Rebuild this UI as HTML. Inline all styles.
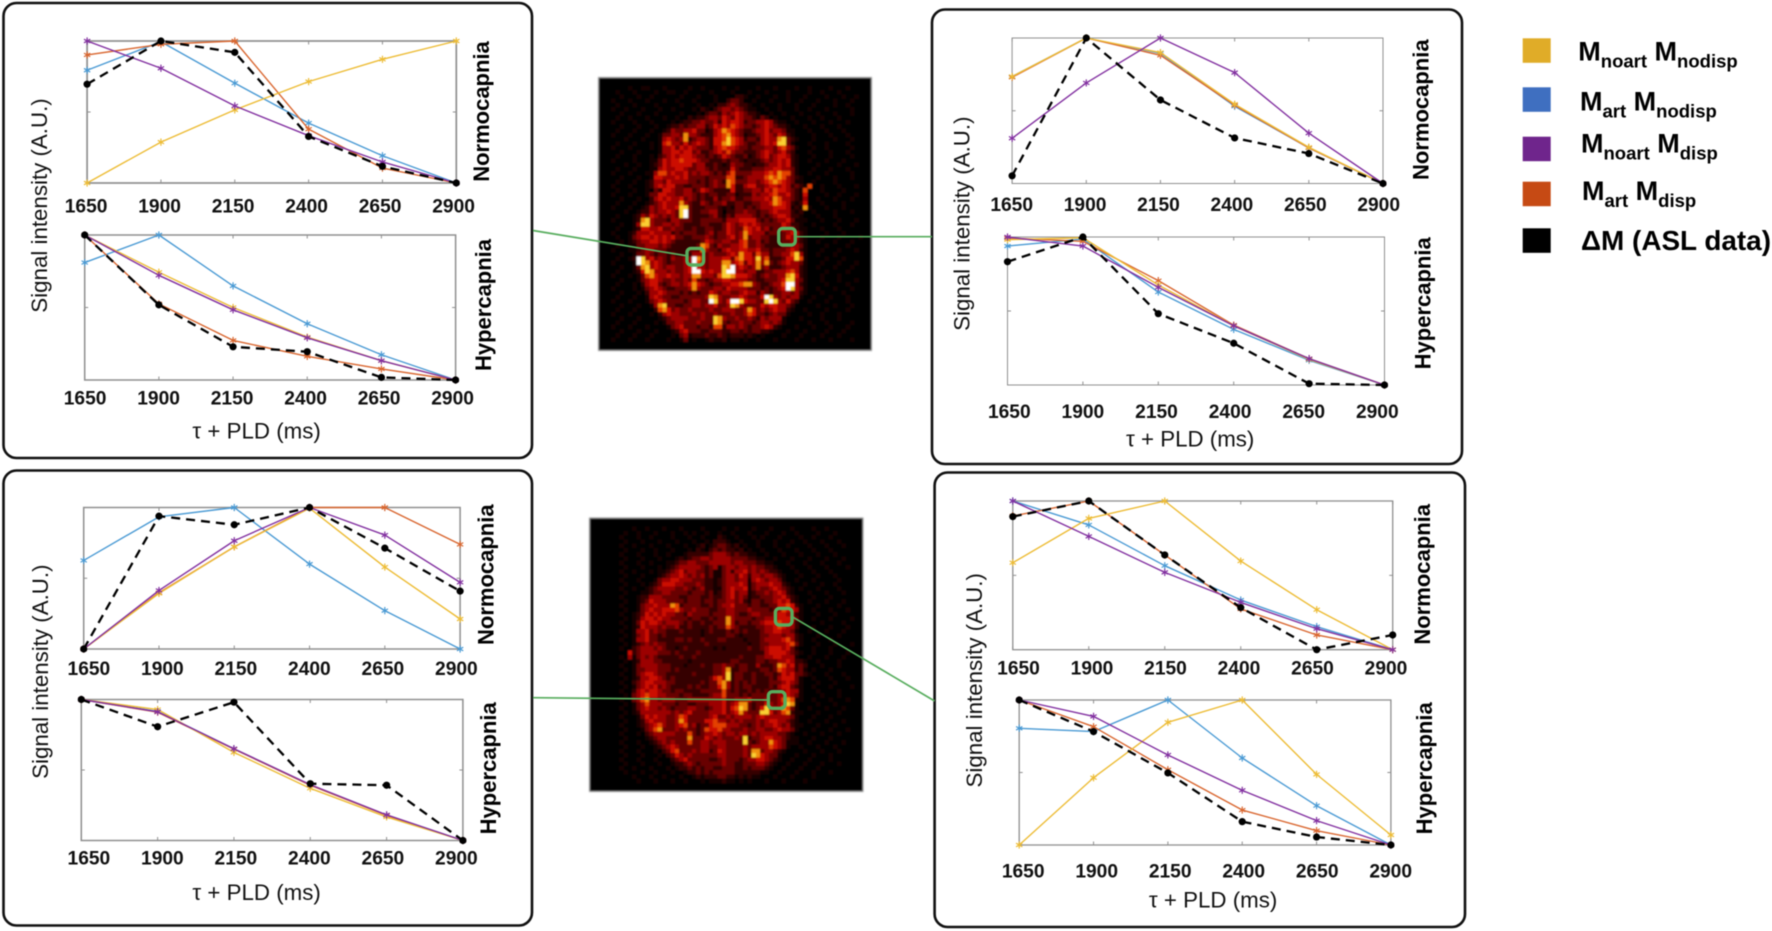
<!DOCTYPE html>
<html lang="en">
<head>
<meta charset="utf-8">
<title>ASL model fits in selected voxels</title>
<style>
html,body{margin:0;padding:0;background:#fff;width:1772px;height:931px;overflow:hidden}
svg{display:block;filter:blur(0.55px);font-family:"Liberation Sans",sans-serif}
.tick{font-weight:bold;text-anchor:middle;fill:#111}
.axt{font-size:22.3px;fill:#111;text-anchor:middle}
.cond{font-size:22px;font-weight:bold;fill:#000;text-anchor:middle}
.leg{font-size:27px;font-weight:bold;fill:#000}
.leg tspan.s{font-size:18.5px}
</style>
</head>
<body>
<svg id="fig" xmlns="http://www.w3.org/2000/svg" width="1772" height="931" viewBox="0 0 1772 931">
<defs><filter id="soft" x="-5%" y="-5%" width="110%" height="110%"><feGaussianBlur stdDeviation="0.9"/></filter></defs>
<rect x="0" y="0" width="1772" height="931" fill="#fff"/>
<g id="heatmaps" filter="url(#soft)"></g>
<g id="panels" fill="none" stroke="#111" stroke-width="2.6">
<rect x="3.5" y="3" width="528.5" height="455" rx="13"/>
<rect x="932" y="9.5" width="530" height="454.5" rx="13"/>
<rect x="3.5" y="470.5" width="528.5" height="455" rx="13"/>
<rect x="934.6" y="472.5" width="530.4" height="454.5" rx="13"/>
</g>
<g id="connectors" fill="none" stroke="#58ad5e">
<line x1="533" y1="230.5" x2="688" y2="256" stroke-width="1.7"/>
<line x1="795" y1="236.7" x2="932" y2="236.7" stroke-width="1.7"/>
<line x1="791" y1="616" x2="934.6" y2="701" stroke-width="1.7"/>
<line x1="533" y1="697.7" x2="770" y2="700" stroke-width="1.7"/>
<rect x="687" y="248.4" width="16.6" height="16.6" rx="4" stroke-width="3.4"/>
<rect x="778.7" y="228.4" width="16.6" height="16.6" rx="4" stroke-width="3.4"/>
<rect x="775.4" y="608.4" width="16.6" height="16.6" rx="4" stroke-width="3.4"/>
<rect x="768.4" y="691.7" width="16.6" height="16.6" rx="4" stroke-width="3.4"/>
</g>
<g id="plots"></g>
<g id="titles">
<text class="axt" transform="translate(47.2 205.5) rotate(-90)">Signal intensity (A.U.)</text>
<text class="axt" transform="translate(969.3 223.7) rotate(-90)">Signal intensity (A.U.)</text>
<text class="axt" transform="translate(48.2 671.7) rotate(-90)">Signal intensity (A.U.)</text>
<text class="axt" transform="translate(982.1 680.3) rotate(-90)">Signal intensity (A.U.)</text>
<text class="axt" x="256.6" y="438.3">τ + PLD (ms)</text>
<text class="axt" x="1190.2" y="446.7">τ + PLD (ms)</text>
<text class="axt" x="256.6" y="900">τ + PLD (ms)</text>
<text class="axt" x="1213.1" y="907.7">τ + PLD (ms)</text>
<text class="cond" transform="translate(489 111.5) rotate(-90)">Normocapnia</text>
<text class="cond" transform="translate(490.8 305) rotate(-90)">Hypercapnia</text>
<text class="cond" transform="translate(1428.4 109.7) rotate(-90)">Normocapnia</text>
<text class="cond" transform="translate(1430.5 303.3) rotate(-90)">Hypercapnia</text>
<text class="cond" transform="translate(493.5 574.7) rotate(-90)">Normocapnia</text>
<text class="cond" transform="translate(496 768.3) rotate(-90)">Hypercapnia</text>
<text class="cond" transform="translate(1430.2 574.3) rotate(-90)">Normocapnia</text>
<text class="cond" transform="translate(1432 768.3) rotate(-90)">Hypercapnia</text>
</g>
<g id="legend">
<rect x="1522.7" y="38.3" width="28" height="24.5" fill="#e0ac28"/>
<text class="leg" x="1578.3" y="60.7">M<tspan class="s" dy="7">noart</tspan><tspan dy="-7"> M</tspan><tspan class="s" dy="7">nodisp</tspan></text>
<rect x="1522.7" y="87.3" width="28" height="24.5" fill="#3f6fc0"/>
<text class="leg" x="1580" y="110.7">M<tspan class="s" dy="7">art</tspan><tspan dy="-7"> M</tspan><tspan class="s" dy="7">nodisp</tspan></text>
<rect x="1522.7" y="136.7" width="28" height="24.5" fill="#6f258c"/>
<text class="leg" x="1581" y="152.3">M<tspan class="s" dy="7">noart</tspan><tspan dy="-7"> M</tspan><tspan class="s" dy="7">disp</tspan></text>
<rect x="1522.7" y="181.7" width="28" height="24.5" fill="#c64a14"/>
<text class="leg" x="1582" y="200">M<tspan class="s" dy="7">art</tspan><tspan dy="-7"> M</tspan><tspan class="s" dy="7">disp</tspan></text>
<rect x="1522.7" y="228.3" width="28" height="24.5" fill="#000"/>
<text class="leg" x="1581" y="250" style="font-size:27.9px">ΔM (ASL data)</text>
</g>
</svg>
<script>
// x-axis categories and tick labels
const times = [1650, 1900, 2150, 2400, 2650, 2900];
const tickLabels = ["1650", "1900", "2150", "2400", "2650", "2900"];
const seriesNames = ["noart-nodisp", "art-nodisp", "art-disp", "noart-disp", "asl-data"];

// Top-left panel, normocapnia
const tlNormoNoartNodisp = [0, 0.288, 0.515, 0.714, 0.871, 1];
const tlNormoArtNodisp = [0.794, 0.995, 0.703, 0.422, 0.192, 0];
const tlNormoArtDisp = [0.902, 0.977, 1, 0.379, 0.105, 0];
const tlNormoNoartDisp = [1, 0.808, 0.543, 0.333, 0.148, 0];
const tlNormoAsl = [0.696, 1, 0.92, 0.328, 0.117, 0];
// Top-left panel, hypercapnia
const tlHyperNoartNodisp = [1, 0.743, 0.5, 0.296, 0.133, 0];
const tlHyperArtNodisp = [0.81, 1, 0.649, 0.388, 0.174, 0];
const tlHyperArtDisp = [1, 0.525, 0.273, 0.163, 0.076, 0];
const tlHyperNoartDisp = [1, 0.722, 0.484, 0.291, 0.133, 0];
const tlHyperAsl = [1, 0.518, 0.229, 0.195, 0.018, 0];
// Top-right panel, normocapnia
const trNormoNoartNodisp = [0.735, 1, 0.9, 0.545, 0.249, 0];
const trNormoArtNodisp = [0.735, 1, 0.895, 0.531, 0.245, 0];
const trNormoArtDisp = [0.73, 1, 0.881, 0.538, 0.245, 0];
const trNormoNoartDisp = [0.311, 0.691, 1, 0.762, 0.346, 0];
const trNormoAsl = [0.053, 1, 0.574, 0.313, 0.206, 0];
// Top-right panel, hypercapnia
const trHyperNoartNodisp = [0.982, 0.995, 0.676, 0.4, 0.173, 0];
const trHyperArtNodisp = [0.939, 0.986, 0.628, 0.376, 0.167, 0];
const trHyperArtDisp = [0.993, 0.971, 0.705, 0.405, 0.178, 0];
const trHyperNoartDisp = [1, 0.939, 0.66, 0.4, 0.178, 0];
const trHyperAsl = [0.833, 1, 0.482, 0.282, 0.009, 0];
// Bottom-left panel, normocapnia
const blNormoNoartNodisp = [0, 0.393, 0.722, 0.995, 0.579, 0.212];
const blNormoArtNodisp = [0.626, 0.934, 1, 0.6, 0.271, 0];
const blNormoArtDisp = [0, 0.398, 0.722, 1, 1, 0.739];
const blNormoNoartDisp = [0, 0.414, 0.765, 1, 0.805, 0.471];
const blNormoAsl = [0, 0.939, 0.878, 1, 0.713, 0.409];
// Bottom-left panel, hypercapnia
const blHyperNoartNodisp = [1, 0.929, 0.625, 0.37, 0.167, 0];
const blHyperArtNodisp = [1, 0.915, 0.65, 0.394, 0.18, 0];
const blHyperArtDisp = [1, 0.91, 0.648, 0.392, 0.178, 0];
const blHyperNoartDisp = [1, 0.913, 0.651, 0.396, 0.182, 0];
const blHyperAsl = [1, 0.807, 0.981, 0.403, 0.392, 0];
// Bottom-right panel, normocapnia
const brNormoNoartNodisp = [0.585, 0.883, 1, 0.596, 0.269, 0];
const brNormoArtNodisp = [1, 0.839, 0.565, 0.334, 0.155, 0];
const brNormoArtDisp = [0.899, 1, 0.637, 0.274, 0.099, 0];
const brNormoNoartDisp = [1, 0.762, 0.52, 0.318, 0.141, 0];
const brNormoAsl = [0.895, 1, 0.637, 0.283, 0, 0.099];
// Bottom-right panel, hypercapnia
const brHyperNoartNodisp = [0, 0.464, 0.846, 1, 0.487, 0.069];
const brHyperArtNodisp = [0.805, 0.782, 1, 0.6, 0.271, 0];
const brHyperArtDisp = [1, 0.816, 0.519, 0.241, 0.099, 0];
const brHyperNoartDisp = [1, 0.887, 0.621, 0.377, 0.168, 0];
const brHyperAsl = [1, 0.782, 0.497, 0.161, 0.055, 0];

// Heatmap intensity levels (0-9), one string per row, read by eye
const brainOneRows = [
"0000000000000000000000000000000000000000000000000000000000000000",
"0000000000000000000000000000000000000000000000000000000000000000",
"0000000100110001000001001000010010000100010000100100001000100000",
"0000100010000100110010000010000100010001000010000100100010000000",
"0000010001001000000100010001000022100100010010001000010001001000",
"0001000100010001001000100001002332001000100010010001000100010000",
"0000100010000100000100010010223432210010001000100010000100100000",
"0001001000100010010000102102344343211001001000100100010000010000",
"0000010001000100000100010233243454322100100100010001000100010000",
"0000100100010001001002122344354354332132010001000100100010000000",
"0001000010001000010122334334254554233445421100100010001000100000",
"0000010001000100122323344235454654332345432210001000100010000000",
"0000100010001001243344533124576543223445344311000100010001000000",
"0001000100010013344374432224567543122345435421000010001000100000",
"0000001000100014543472344325568654233245447832100010000100010000",
"0000100010001015644353454325578654322345458831000100010000100000",
"0001000100001014453545433324565543323334435643100010010000010000",
"0000010001000014455455342234546433222345434532000100001000100000",
"0000100010001023454555433232354322312345345542100010001000010000",
"0001000010001135455655543322232332122234345452100100010001000000",
"0000001001001235455555344223212433221223445452100001000010001000",
"0000100010001145445543344323222532223334455443100010001000100000",
"0001000100011466454453434432324633334445657663100100010000010000",
"0000010001001554445453333233336622344446767643210001000100010000",
"0000100010012443544443323234327633344345676543110010000100000000",
"0001000100012454553322333234337522455334554542321600100010001000",
"0000100010010325543344235432222522334435465543216000100001000000",
"0001000100013355443344323233223312224344564453215000010010001000",
"0000010001002454544534323224233422334445476443214001000100010000",
"0000100010012345444743224323342233223344576542125000100001000000",
"0001000100124345445883222333212133232344455541217100010001000000",
"0000001001224344543893223344202233433233454442120010000100010000",
"0000100012435434343893222234213244443232345542210001000100000000",
"0001000012784333244333223333324445555323234453111000100010001000",
"0000010014884334434322223322235434545433333542210010000100010000",
"0000100012554453343322322332235433654534233544211000100010000000",
"0001000124445444423233322342335434754442332345421000010001000000",
"0000100134554545453322333432334534734433222354421000100010000100",
"0000010123445545432222223543344335633423222334321001000100010000",
"0000100113344434322222237632433445633432222334431000010000100000",
"0001000112344333222223337433245445544533233345421000100010001000",
"0000010013343233232222444343334547553644233446841001000100000000",
"0000100129845343243344975344455367554846222355861000010001000000",
"0001000019874543233344964344477456354747323454431000100010001000",
"0000010013784543443345954344487945434734222344421001000100010000",
"0000100012587444343345995454489944344223344456421000010000100000",
"0001000101367544544344774443688755543234334478521000100010000000",
"0000010001345543343343633234455444433223334588431000100010001000",
"0000100010245532344345754323344556774322344699421000010000100000",
"0001000010134543223334743334435444433323234598431001000100010000",
"0000010001024454333232323354344334544243233443421000100001000000",
"0000100010014543322333333487433445433359843434410010001000100000",
"0001000100013454333323443398435998544338984353200100010000100000",
"0000010001001478332233443445334874333354554432000001000100010000",
"0000100010000267534334333343344433475343454421001000010000100000",
"0001000100001024544333434334333433465332343310000100100010000000",
"0000010001000012344443334338743343343243444100010000100010000000",
"0000100010000101334433343338732334332344343100000100010000010000",
"0001000100010000134533323326624434323345421000100010001000100000",
"0000010001000100012453332233322332323322100010001000010001000000",
"0000100010001000010341222322321222121010000100010000100010000000",
"0001000100010000100130100121120110100100010000100010001000010000",
"0000000000000000000000000000000000000000000000000000000000000000",
"0000000000000000000000000000000000000000000000000000000000000000"
];
const brainTwoRows = [
"0000000000000000000000000000000000000000000000000000000000000000",
"0000000000000000000000000000000000000000000000000000000000000000",
"0000000000100100010001000010000100100010001000010000100100000000",
"0000000010010001000100101001001001000100010001001000010001000000",
"0000000100010010000100010010002100100010100010000100100010000000",
"0000000010001000100010001001022210010001000100010010001000100000",
"0000000100100010001000100120123321201001000100100001000100010000",
"0000000010001001000100010210232322120100100010001000100010000000",
"0000000100010001001000122222344432322110010001000100010001000000",
"0000000010001000100012123344344443333221100100010001000100010000",
"0000000100010010001123344333444443443332211000100010001000100000",
"0000000010001000101234444432341344344343322100010001000100001000",
"0000000100100010112345344332311342445343432210001000100010000000",
"0000000010001000123445434342311344354244344321000100010001000000",
"0000000100010001344554443332212344344145434431001000100000100000",
"0000000010001012355544333432212344454134445442100010001001000000",
"0000000100100123444433432342211345445134334543210100010000100000",
"0000000010001123344333323332312345344123343454210001000100010000",
"0000000100012244433332233322322345343122333445321000100010000000",
"0000000010012354443333233323323344342133233454521001000100010000",
"0000000100013445444762333322323445333233223355652100010000100000",
"0000000010013454455564334333223344333433332346554100100010001000",
"0000000100123545454433243333233344322344333455442100010001000000",
"0000000010124554544333323322323374333323344455553100100010000100",
"0000000100135455434443232232233374233233455565542100001000010000",
"0000000010125444343342232222323364322223344565442000100010001000",
"0000000100144534332223222212322232323222344554431001000100010000",
"0000000010134533232222222212222233212222334443442100010000100000",
"0000000100144533222233232232223322221222344445642100100010000000",
"0000000010123434332222222223222222222122334444563100010001000100",
"0000000100234443432212322222212122222322345554531000100010000000",
"0000000005234444333232222322222222222222245555432100100010001000",
"0000000104134343222223223222222222232223344554441001000100010000",
"0000000010124443322222212222222223322223323344542210010000100000",
"0000000100134444333222122232233433233224222376452320001000100000",
"0000000010133444333232222222233472233222332365442310100010000000",
"0000000100134554332222223222233482332232233235453321000100010000",
"0000000010124455432322222222356482332232223245553100100010001000",
"0000000100234554443322222232336742323232223334543100010001000000",
"0000000010134545343222232322335742323322223245532100100010000100",
"0000000100245455433233222233333632322323232334544100010000100000",
"0000000010345655443332332222344633323233333344543100001000100000",
"0000000100346744344433344444444533444533343346761100100010001000",
"0000000010134644433323322333444534577323354345871000010001000000",
"0000000100134544343233344332344535687323584447631001000100010000",
"0000000010124444444343453333444534574333885346721100010000100000",
"0000000100013545443346533333453343444434544444431000100010000000",
"0000000010012454443347533335564434343334345544321001000100010000",
"0000000100012345643345634233566644433234344543421100010001000000",
"0000000010001346733343433236556443334334433454431000100010001000",
"0000000100010234444433363234454344344343444433210010001000100000",
"0000000010000123443333373335434333438233455443211000100010000000",
"0000000100010012343433363344344433338323447543111001000100010000",
"0000000010001001234543333344334433334344446543100100010001000000",
"0000000100010001023563334344235433334377344321000010001000100000",
"0000000010001000102354343333334433334387543310001000100010000000",
"0000000100010001000234533333223433323445543210010001000010000000",
"0000000010001000100122343233333433223334432100100010001000100000",
"0000000100100010001012232323322333223233321001000100010000000000",
"0000000010001001000100122323233333222222110010001000100010000000",
"0000000000100010010001001212223322121211000100010000100000000000",
"0000000000010001000100100010111211010100010001000010000000000000",
"0000000000000000000000000000000000000000000000000000000000000000",
"0000000000000000000000000000000000000000000000000000000000000000"
];

const NS = "http://www.w3.org/2000/svg";
function make(tag, attrs) {
  const el = document.createElementNS(NS, tag);
  for (const k in attrs) el.setAttribute(k, attrs[k]);
  return el;
}

// Hot colormap for the intensity levels
const hotColors = ["#000000","#180100","#360200","#680200","#9c0600","#cc1000","#e44000","#f09010","#fbd030","#ffffff"];
function drawHeatmap(rows, left, top, size, name) {
  const parent = document.getElementById("heatmaps");
  const group = make("g", {"shape-rendering": "crispEdges"});
  
  
  const bg = make("rect", {x: left, y: top, width: size, height: size, fill: "#000", stroke: "#999", "stroke-width": 1});
  
  
  group.appendChild(bg);
  const rowH = size / rows.length;
  rows.forEach(function (row, r) {
    const colW = size / 64;
    for (let c = 0; c < row.length && c < 64; c++) {
      const level = +row[c];
      if (!level) continue;
      const cell = make("rect", {x: (left + c * colW).toFixed(2), y: (top + r * rowH).toFixed(2), width: (colW + 0.3).toFixed(2), height: (rowH + 0.3).toFixed(2), fill: hotColors[level]});
      
      
      group.appendChild(cell);
    }
  });
  parent.appendChild(group);
}
drawHeatmap(brainOneRows, 598.3, 77.3, 273, "brain-map-upper");
drawHeatmap(brainTwoRows, 589.3, 518, 273.5, "brain-map-lower");

const lineColors = {"noart-nodisp": "#edbc35", "art-nodisp": "#4a9ad4", "art-disp": "#d9662f", "noart-disp": "#8230a0", "asl-data": "#000"};

const plots = [
  {name: "top-left-normocapnia", x0: 87.1, x1: 456.3, y0: 41, y1: 183, fw: 1.7, lx: 86.1, lstep: 73.5, ly: 212.7, fs: 19.2,
   series: [tlNormoArtNodisp, tlNormoArtDisp, tlNormoNoartNodisp, tlNormoNoartDisp, tlNormoAsl]},
  {name: "top-left-hypercapnia", x0: 84.7, x1: 455.6, y0: 235, y1: 380, fw: 1.5, lx: 85.1, lstep: 73.5, ly: 404.5, fs: 19.2,
   series: [tlHyperArtNodisp, tlHyperArtDisp, tlHyperNoartNodisp, tlHyperNoartDisp, tlHyperAsl]},
  {name: "top-right-normocapnia", x0: 1012.1, x1: 1383, y0: 38, y1: 183.5, fw: 1, lx: 1011.7, lstep: 73.4, ly: 211, fs: 19.2,
   series: [trNormoArtNodisp, trNormoArtDisp, trNormoNoartNodisp, trNormoNoartDisp, trNormoAsl]},
  {name: "top-right-hypercapnia", x0: 1007.5, x1: 1384.5, y0: 237, y1: 385, fw: 1, lx: 1009.3, lstep: 73.6, ly: 418, fs: 19.2,
   series: [trHyperArtNodisp, trHyperArtDisp, trHyperNoartNodisp, trHyperNoartDisp, trHyperAsl]},
  {name: "bottom-left-normocapnia", x0: 83.7, x1: 460.1, y0: 507.5, y1: 649, fw: 1.5, lx: 88.9, lstep: 73.5, ly: 675, fs: 19.2,
   series: [blNormoArtNodisp, blNormoArtDisp, blNormoNoartNodisp, blNormoNoartDisp, blNormoAsl]},
  {name: "bottom-left-hypercapnia", x0: 81.3, x1: 462.9, y0: 699.5, y1: 840.5, fw: 1.5, lx: 88.9, lstep: 73.5, ly: 864.3, fs: 19.2,
   series: [blHyperArtNodisp, blHyperArtDisp, blHyperNoartNodisp, blHyperNoartDisp, blHyperAsl]},
  {name: "bottom-right-normocapnia", x0: 1012.8, x1: 1392.7, y0: 501, y1: 649.7, fw: 1.3, lx: 1018.5, lstep: 73.5, ly: 674.3, fs: 19.2,
   series: [brNormoArtNodisp, brNormoArtDisp, brNormoNoartNodisp, brNormoNoartDisp, brNormoAsl]},
  {name: "bottom-right-hypercapnia", x0: 1019.2, x1: 1390.9, y0: 700, y1: 845, fw: 1.3, lx: 1023.2, lstep: 73.5, ly: 877.3, fs: 19.2,
   series: [brHyperArtNodisp, brHyperArtDisp, brHyperNoartNodisp, brHyperNoartDisp, brHyperAsl]}
];
// Draw order of the series arrays inside each plot
const drawOrder = ["art-nodisp", "art-disp", "noart-nodisp", "noart-disp", "asl-data"];

function drawPlot(p) {
  const root = document.getElementById("plots");
  const g = make("g", {});
  
  
  root.appendChild(g);
  const xMin = times[0], xMax = times[times.length - 1];
  const xScale = function (v) { return p.x0 + (v - xMin) / (xMax - xMin) * (p.x1 - p.x0); };
  const yScale = function (v) { return p.y1 - v * (p.y1 - p.y0); };

  const frame = make("rect", {x: p.x0, y: p.y0, width: p.x1 - p.x0, height: p.y1 - p.y0, fill: "none", stroke: "#8f8f8f", "stroke-width": p.fw});
  
  
  g.appendChild(frame);

  times.forEach(function (t, i) {
    const x = xScale(t);
    [[p.y0, p.y0 + 3.5], [p.y1, p.y1 - 3.5]].forEach(function (pair) {
      const tick = make("line", {x1: x, x2: x, y1: pair[0], y2: pair[1], stroke: "#8f8f8f", "stroke-width": 1});
      
      
      g.appendChild(tick);
    });
    const label = make("text", {x: (p.lx + i * p.lstep).toFixed(1), y: p.ly, "font-size": p.fs});
    label.setAttribute('class', 'tick');
    
    
    label.textContent = tickLabels[i];
    g.appendChild(label);
  });
  const midY = yScale(0.5);
  [[p.x0, p.x0 + 3.5], [p.x1, p.x1 - 3.5]].forEach(function (pair) {
    const tick = make("line", {x1: pair[0], x2: pair[1], y1: midY, y2: midY, stroke: "#8f8f8f", "stroke-width": 1});
    
    
    g.appendChild(tick);
  });

  p.series.forEach(function (values, s) {
    const key = drawOrder[s];
    const isData = key === "asl-data";
    const pts = values.map(function (v, i) { return xScale(times[i]).toFixed(2) + "," + yScale(v).toFixed(2); }).join(" ");
    const line = make("polyline", {points: pts, fill: "none", stroke: lineColors[key], "stroke-width": isData ? 2.3 : 1.4, "stroke-linejoin": "round"});
    if (isData) line.setAttribute("stroke-dasharray", "9 6");
    
    
    g.appendChild(line);
    values.forEach(function (v, i) {
      const cx = xScale(times[i]), cy = yScale(v);
      let mark;
      if (isData) {
        mark = make("circle", {cx: cx, cy: cy, r: 3.6, fill: "#000"});
      } else {
        const r = 3.6, d = r * 0.87, h = r * 0.5;
        const path = "M" + cx + " " + (cy - r) + "V" + (cy + r) +
          "M" + (cx - d) + " " + (cy - h) + "L" + (cx + d) + " " + (cy + h) +
          "M" + (cx - d) + " " + (cy + h) + "L" + (cx + d) + " " + (cy - h);
        mark = make("path", {d: path, fill: "none", stroke: lineColors[key], "stroke-width": 1.2});
      }
      
      
      g.appendChild(mark);
    });
  });
}
plots.forEach(drawPlot);
</script>
</body>
</html>
